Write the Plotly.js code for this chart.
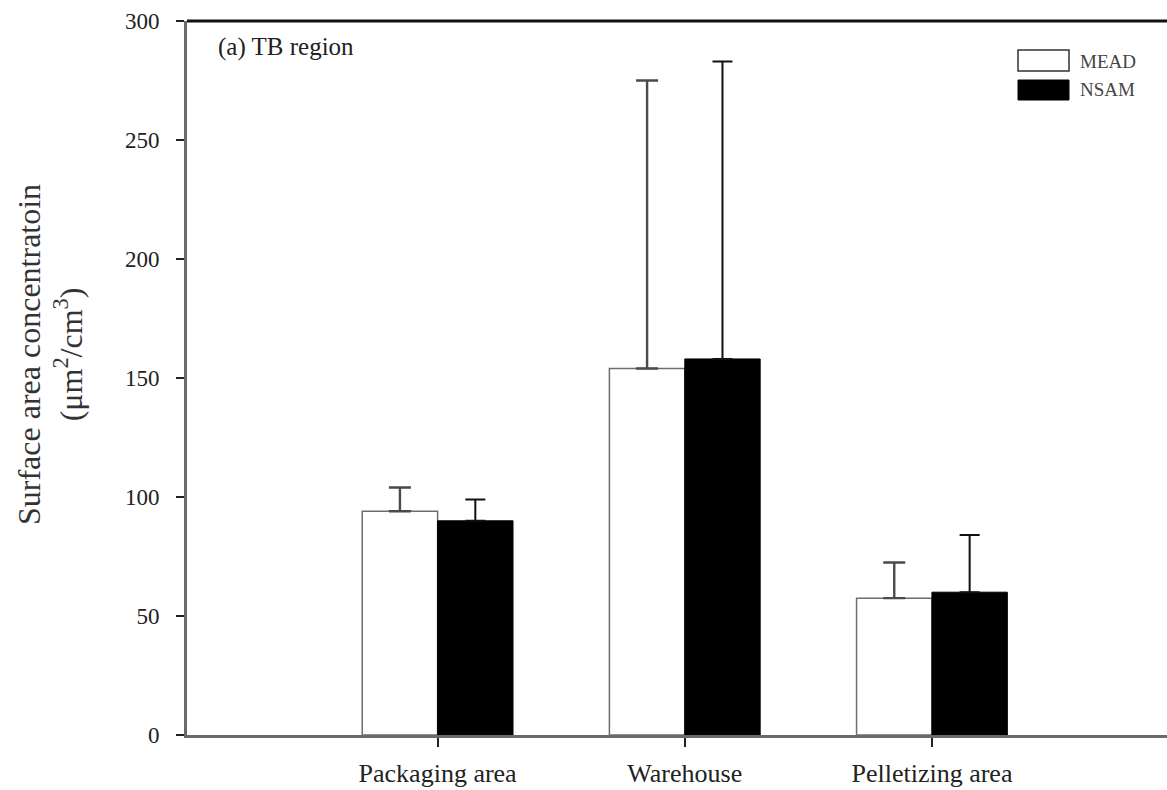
<!DOCTYPE html>
<html>
<head>
<meta charset="utf-8">
<script src="https://cdn.plot.ly/plotly-3.0.1.min.js"></script>
<style>html,body{margin:0;padding:0;background:#fff;}</style>
</head>
<body>
<div id="chart" style="width:1167px;height:790px;"></div>
<script>
const categories = ["Packaging area", "Warehouse", "Pelletizing area"];
const positions = [1, 2, 3];
const meadValues = [94, 154, 57.5];
const meadErrors = [10, 121, 15];
const nsamValues = [90, 158, 60];
const nsamErrors = [9, 125, 24];
const yTickVals = [0, 50, 100, 150, 200, 250, 300];

const serif = "Liberation Serif, Times New Roman, serif";
const L = 187, R = 1167, T = 21, B = 735, W = 1167, H = 790;
const px = v => (v - L) / (R - L);
const py = v => (B - v) / (B - T);

const traces = [
  {
    type: "bar", name: "MEAD", x: positions, y: meadValues,
    marker: {color: "#ffffff", line: {color: "#6e6e6e", width: 1.5}},
    error_y: {type: "data", array: meadErrors, arrayminus: meadValues.map(() => 0), symmetric: false,
              color: "#4a4a4a", thickness: 2.4, width: 11},
    showlegend: false, hoverinfo: "skip"
  },
  {
    type: "bar", name: "NSAM", x: positions, y: nsamValues,
    marker: {color: "#000000", line: {color: "#000000", width: 1}},
    error_y: {type: "data", array: nsamErrors, arrayminus: nsamValues.map(() => 0), symmetric: false,
              color: "#111111", thickness: 2, width: 10},
    showlegend: false, hoverinfo: "skip"
  }
];

const layout = {
  width: W, height: H,
  margin: {l: L, r: W - R, t: T, b: H - B, pad: 0},
  paper_bgcolor: "#ffffff", plot_bgcolor: "#ffffff",
  barmode: "group", bargap: 0.39, bargroupgap: 0,
  showlegend: false,
  xaxis: {
    range: [-0.014, 3.951], tickvals: positions, ticktext: categories,
    showgrid: false, zeroline: false,
    showline: true, linecolor: "#6a6a6a", linewidth: 3,
    ticks: "outside", ticklen: 9, tickwidth: 2, tickcolor: "#222",
    ticklabelstandoff: 4,
    tickfont: {family: serif, size: 26, color: "#222"}
  },
  yaxis: {
    range: [0, 300], tickvals: yTickVals,
    showgrid: false, zeroline: false,
    showline: true, linecolor: "#6a6a6a", linewidth: 3,
    ticks: "outside", ticklen: 8, tickwidth: 2, tickcolor: "#222",
    ticklabelstandoff: 12,
    tickfont: {family: serif, size: 23, color: "#222"}
  },
  shapes: [
    {type: "line", xref: "paper", yref: "paper", x0: 0, x1: 1, y0: 1, y1: 1,
     line: {color: "#111", width: 3}},
    {type: "rect", xref: "paper", yref: "paper", x0: px(1018), x1: px(1069), y0: py(71), y1: py(50),
     fillcolor: "#ffffff", line: {color: "#333", width: 1.5}},
    {type: "rect", xref: "paper", yref: "paper", x0: px(1018), x1: px(1069), y0: py(100), y1: py(80),
     fillcolor: "#000000", line: {color: "#000", width: 1}}
  ],
  annotations: [
    {xref: "paper", yref: "paper", x: px(216), y: py(47), xanchor: "left", yanchor: "middle",
     text: "(a) TB region", showarrow: false, font: {family: serif, size: 25, color: "#222"}},
    {xref: "paper", yref: "paper", x: px(1078), y: py(61), xanchor: "left", yanchor: "middle",
     text: "MEAD", showarrow: false, font: {family: serif, size: 19, color: "#444"}},
    {xref: "paper", yref: "paper", x: px(1078), y: py(90), xanchor: "left", yanchor: "middle",
     text: "NSAM", showarrow: false, font: {family: serif, size: 19, color: "#444"}},
    {xref: "paper", yref: "paper", x: px(50), y: py(355), xanchor: "center", yanchor: "middle",
     textangle: -90, text: "Surface area concentratoin<br>(μm<sup>2</sup>/cm<sup>3</sup>)",
     showarrow: false, font: {family: serif, size: 32, color: "#333"}}
  ]
};

Plotly.newPlot("chart", traces, layout, {displayModeBar: false, staticPlot: true});
</script>
</body>
</html>
